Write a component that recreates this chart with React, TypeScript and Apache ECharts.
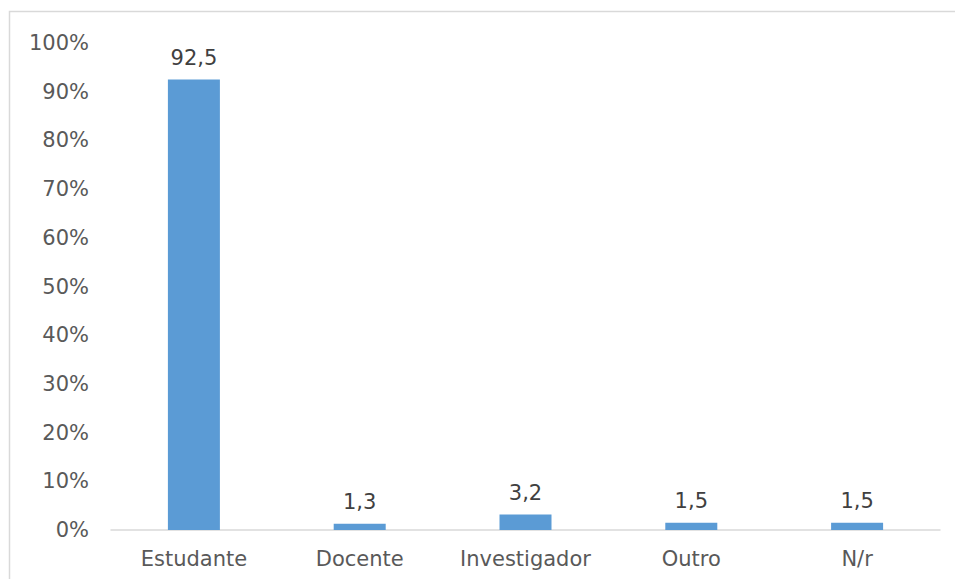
import React, { useEffect, useRef } from "react";
import * as echarts from "echarts";

const categories = ["Estudante", "Docente", "Investigador", "Outro", "N/r"];
const values = [92.5, 1.3, 3.2, 1.5, 1.5];
const yTicks = [0, 10, 20, 30, 40, 50, 60, 70, 80, 90, 100];

export default function App() {
  const ref = useRef<HTMLDivElement>(null);
  useEffect(() => {
    if (!ref.current) return;
    const chart = echarts.init(ref.current, null, { renderer: "svg" });
    const font = "Verdana, DejaVu Sans, sans-serif";
    chart.setOption({
      animation: false,
      backgroundColor: "#ffffff",
      graphic: [
        {
          type: "rect",
          shape: { x: 9.5, y: 11.5, width: 1000, height: 1000 },
          style: { fill: "none", stroke: "#D9D9D9", lineWidth: 1.5 },
          silent: true,
        },
      ],
      grid: { left: 111, right: 15, top: 43, bottom: 49, containLabel: false },
      xAxis: {
        type: "category",
        data: categories,
        axisLine: { lineStyle: { color: "#D9D9D9", width: 1.5 } },
        axisTick: { show: false },
        axisLabel: {
          color: "#595959",
          fontSize: 21,
          fontFamily: font,
          margin: 18,
          interval: 0,
          hideOverlap: false,
        },
      },
      yAxis: {
        type: "value",
        min: yTicks[0],
        max: yTicks[yTicks.length - 1],
        interval: 10,
        axisLine: { show: false },
        axisTick: { show: false },
        splitLine: { show: false },
        axisLabel: {
          color: "#595959",
          fontSize: 21,
          fontFamily: font,
          margin: 22,
          formatter: (v: number) => v + "%",
        },
      },
      series: [
        {
          type: "bar",
          data: values,
          barWidth: 52,
          itemStyle: { color: "#5B9BD5" },
          label: {
            show: true,
            position: "top",
            distance: 11,
            color: "#404040",
            fontSize: 21,
            fontFamily: font,
            formatter: (p: any) => String(p.value).replace(".", ","),
          },
        },
      ],
    });
    return () => chart.dispose();
  }, []);
  return (
    <div
      ref={ref}
      style={{ position: "fixed", left: 0, top: 0, width: 955, height: 579 }}
    />
  );
}
